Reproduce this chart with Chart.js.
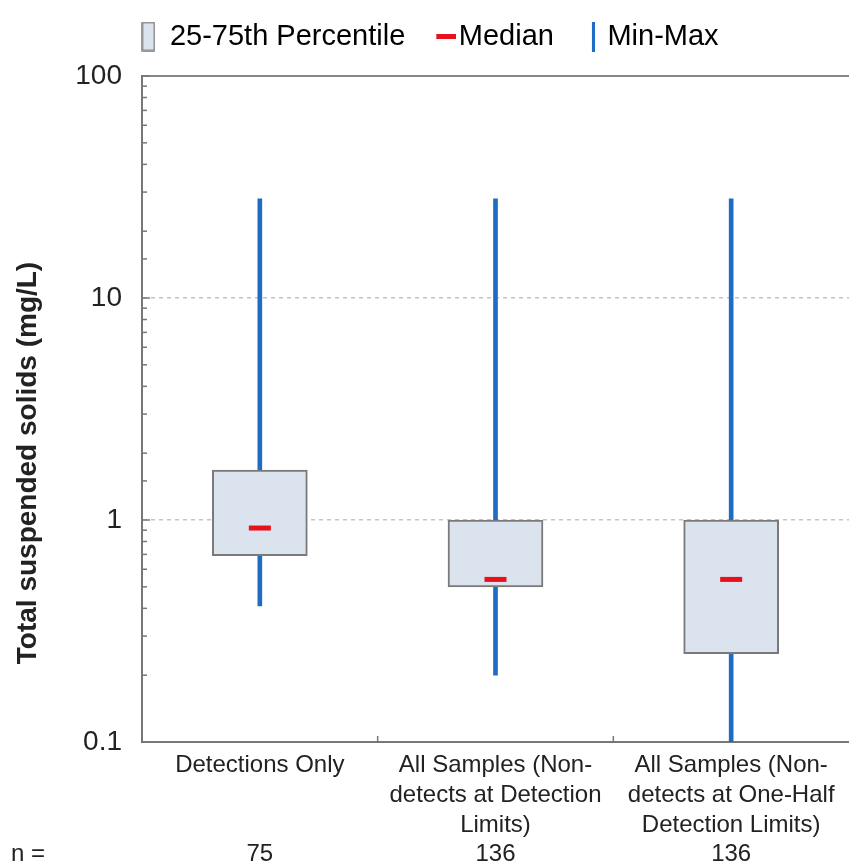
<!DOCTYPE html>
<html>
<head>
<meta charset="utf-8">
<script src="https://cdn.jsdelivr.net/npm/chart.js@4.4.1/dist/chart.umd.min.js"></script>
<style>
  html, body { margin: 0; padding: 0; background: #fff; }
  #wrap { width: 849px; height: 865px; }
</style>
</head>
<body>
<div id="wrap"><canvas id="tss" width="849" height="865"></canvas></div>
<script>
// data
const groups = [
  ["Detections Only"],
  ["All Samples (Non-", "detects at Detection", "Limits)"],
  ["All Samples (Non-", "detects at One-Half", "Detection Limits)"]
];
const counts = [75, 136, 136];
const minVals = [0.41, 0.2, 0.1];
const q1Vals = [0.69, 0.5, 0.25];
const medianVals = [0.92, 0.54, 0.54];
const q3Vals = [1.68, 1.0, 1.0];
const maxVals = [28, 28, 28];
const yLabelled = [0.1, 1, 10, 100];
const yTitle = "Total suspended solids (mg/L)";

const FONT = "'Liberation Sans', Arial, sans-serif";
const BLUE = "#1f6cc4";
const RED = "#e8101a";
const BOXFILL = "#dbe3ef";
const BOXLINE = "#7a7a7a";

function isDecade(v) {
  return yLabelled.some(d => Math.abs(d - v) < 1e-9);
}

// little legend icons (canvas point styles)
function icon(w, h, draw) {
  const c = document.createElement("canvas");
  c.width = w; c.height = h;
  draw(c.getContext("2d"));
  return c;
}
const boxIcon = icon(14, 30, g => {
  g.fillStyle = BOXFILL; g.fillRect(1, 1, 12, 28);
  g.strokeStyle = BOXLINE; g.lineWidth = 1.5; g.strokeRect(1, 1, 12, 28);
});
// dash / bar sit to the right of their canvas so they hug the text
const medIcon = icon(38, 5, g => { g.fillStyle = RED; g.fillRect(18, 0, 20, 5); });
const rangeIcon = icon(18, 30, g => { g.fillStyle = BLUE; g.fillRect(15, 0, 3, 30); });

const legendItems = [
  { text: "25-75th Percentile", pointStyle: boxIcon, lineWidth: 0, hidden: false, datasetIndex: 1 },
  { text: "Median", pointStyle: medIcon, lineWidth: 0, hidden: false, datasetIndex: 2 },
  { text: "Min-Max", pointStyle: rangeIcon, lineWidth: 0, hidden: false, datasetIndex: 0 }
];

// inward tick marks, y title and the n = row
const extras = {
  id: "extras",
  afterDatasetsDraw(chart) {
    const { ctx, chartArea: a, scales: { x, y } } = chart;
    ctx.save();
    ctx.strokeStyle = "#777";
    ctx.lineWidth = 1.5;
    y.ticks.forEach(t => {
      const py = y.getPixelForValue(t.value);
      const len = isDecade(t.value) ? 8 : 5;
      ctx.beginPath(); ctx.moveTo(a.left, py); ctx.lineTo(a.left + len, py); ctx.stroke();
    });
    for (let i = 0; i < groups.length - 1; i++) {
      const px = x.getPixelForValue(i + 0.5);
      ctx.beginPath(); ctx.moveTo(px, a.bottom); ctx.lineTo(px, a.bottom - 6); ctx.stroke();
    }
    ctx.restore();
  },
  afterDraw(chart) {
    const { ctx, scales: { x } } = chart;
    ctx.save();
    ctx.fillStyle = "#222";
    ctx.textAlign = "center";
    ctx.textBaseline = "middle";
    ctx.font = "24px " + FONT;
    ctx.fillText("n =", 28, 854);
    counts.forEach((n, i) => ctx.fillText(String(n), x.getPixelForValue(i), 854));
    ctx.translate(28, 463);
    ctx.rotate(-Math.PI / 2);
    ctx.font = "bold 28px " + FONT;
    ctx.fillText(yTitle, 0, 0);
    ctx.restore();
  }
};

new Chart(document.getElementById("tss"), {
  type: "bar",
  data: {
    labels: groups,
    datasets: [
      {
        label: "Min-Max",
        data: groups.map((g, i) => [minVals[i], maxVals[i]]),
        backgroundColor: BLUE,
        barThickness: 4,
        grouped: false,
        order: 3
      },
      {
        label: "25-75th Percentile",
        data: groups.map((g, i) => [q1Vals[i], q3Vals[i]]),
        backgroundColor: BOXFILL,
        borderColor: BOXLINE,
        borderWidth: 2,
        borderSkipped: false,
        barThickness: 95,
        grouped: false,
        order: 2
      },
      {
        type: "line",
        label: "Median",
        data: medianVals,
        showLine: false,
        pointStyle: "line",
        pointRadius: 11,
        pointHoverRadius: 11,
        borderColor: RED,
        pointBorderWidth: 5,
        order: 1
      }
    ]
  },
  options: {
    responsive: false,
    animation: false,
    layout: { autoPadding: false, padding: { top: -3, left: 0, right: -11, bottom: 0 } },
    plugins: {
      tooltip: { enabled: false },
      legend: {
        position: "top",
        labels: {
          usePointStyle: true,
          pointStyleWidth: 14,
          padding: 25,
          color: "#222",
          font: { size: 29, family: FONT },
          generateLabels: () => legendItems
        }
      }
    },
    scales: {
      x: {
        offset: true,
        grid: { display: false },
        border: { color: "#777", width: 2 },
        ticks: {
          color: "#222",
          padding: 0,
          maxRotation: 0,
          autoSkip: false,
          font: { size: 24, family: FONT, lineHeight: 1.25 }
        },
        afterFit: s => { s.height = 123; s.paddingLeft = 0; s.paddingRight = 0; }
      },
      xTop: {
        type: "category",
        position: "top",
        labels: groups.map((g, i) => i),
        offset: true,
        grid: { display: false },
        ticks: { display: false },
        border: { color: "#888", width: 2 },
        afterFit: s => { s.height = s.height + 7; s.paddingLeft = 0; s.paddingRight = 0; }
      },
      y: {
        type: "logarithmic",
        min: 0.1,
        max: 100,
        grid: {
          drawTicks: false,
          lineWidth: 1.5,
          color: c => (c.tick && (Math.abs(c.tick.value - 1) < 1e-9 || Math.abs(c.tick.value - 10) < 1e-9)) ? "#c4c4c4" : "rgba(0,0,0,0)"
        },
        border: { color: "#777", width: 2, dash: [4, 4] },
        ticks: {
          autoSkip: false,
          padding: 20,
          color: "#222",
          font: { size: 28, family: FONT },
          callback: v => isDecade(v) ? String(v) : ""
        },
        afterFit: s => { s.width = 142; }
      }
    }
  },
  plugins: [extras]
});
</script>
</body>
</html>
